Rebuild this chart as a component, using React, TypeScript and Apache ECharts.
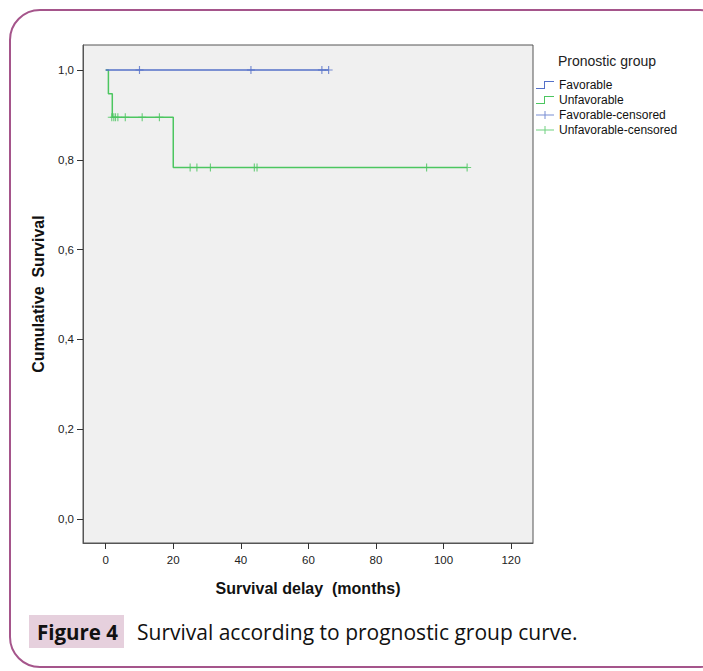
import React, { useEffect, useRef } from "react";
import * as echarts from "echarts";

const favorableCurve: [number, number][] = [
  [0, 1.0],
  [66, 1.0],
];
const unfavorableCurve: [number, number][] = [
  [0, 1.0],
  [0.8, 0.947],
  [1.95, 0.895],
  [20, 0.783],
  [107, 0.783],
];
const favorableCensoredX = [10, 43, 64, 66];
const favorableCensoredY = [1.0, 1.0, 1.0, 1.0];
const unfavorableCensoredX = [1.8, 2.4, 2.9, 3.6, 5.8, 10.8, 15.9, 25, 27, 31, 44, 44.8, 95, 107];
const unfavorableCensoredY = [
  0.895, 0.895, 0.895, 0.895, 0.895, 0.895, 0.895, 0.783, 0.783, 0.783, 0.783, 0.783, 0.783, 0.783,
];
const xTicks = [0, 20, 40, 60, 80, 100, 120];
const yTicks = [0, 0.2, 0.4, 0.6, 0.8, 1.0];
const legendNames = ["Favorable", "Unfavorable", "Favorable-censored", "Unfavorable-censored"];

const BLUE = "#5570c8";
const GREEN = "#4cc660";

const PLUS = "path://M0,3.5h7v1h-7zM3,0h1v8h-1z";
const STEP_ICON = "path://M0,7h8v-7h10v1h-9v7h-9z";
const PLUS_ICON = "path://M0,3.5h18v1h-18zM8.5,0h1v8h-1z";

export default function App() {
  const ref = useRef<HTMLDivElement>(null);
  useEffect(() => {
    if (!ref.current) return;
    const chart = echarts.init(ref.current, undefined, { renderer: "svg" });
    const zip = (xs: number[], ys: number[]) => xs.map((x, i) => [x, ys[i]]);
    chart.setOption({
      animation: false,
      backgroundColor: "#ffffff",
      title: {
        text: "Pronostic group",
        left: 558,
        top: 54,
        padding: 0,
        textStyle: { fontFamily: "Liberation Sans", fontSize: 14, fontWeight: "normal", color: "#222" },
      },
      legend: {
        orient: "vertical",
        left: 536,
        top: 79,
        padding: 0,
        itemWidth: 18,
        itemHeight: 8,
        itemGap: 3,
        selectedMode: false,
        textStyle: { fontFamily: "Liberation Sans", fontSize: 12, color: "#111", lineHeight: 12 },
        data: [
          { name: legendNames[0], icon: STEP_ICON, itemStyle: { color: BLUE } },
          { name: legendNames[1], icon: STEP_ICON, itemStyle: { color: GREEN } },
          { name: legendNames[2], icon: PLUS_ICON, itemStyle: { color: BLUE } },
          { name: legendNames[3], icon: PLUS_ICON, itemStyle: { color: GREEN } },
        ],
      },
      grid: {
        left: 83,
        top: 45,
        width: 450,
        height: 498,
        show: true,
        backgroundColor: "#f0f0f0",
        borderColor: "#555",
        borderWidth: 1,
      },
      xAxis: {
        type: "value",
        min: -6.72,
        max: 126.5,
        name: "Survival delay  (months)",
        nameLocation: "middle",
        nameGap: 37,
        nameTextStyle: { fontFamily: "Liberation Sans", fontSize: 16, fontWeight: "bold", color: "#111" },
        axisLine: { show: true, onZero: false, lineStyle: { color: "#555", width: 1 } },
        axisTick: { show: true, length: 6, customValues: xTicks, lineStyle: { color: "#333" } },
        axisLabel: {
          customValues: xTicks,
          margin: 11,
          fontFamily: "Liberation Sans",
          fontSize: 11.5,
          color: "#222",
        },
        splitLine: { show: false },
      },
      yAxis: {
        type: "value",
        min: -0.0535,
        max: 1.0557,
        name: "Cumulative  Survival",
        nameLocation: "middle",
        nameRotate: 90,
        nameGap: 37,
        nameTextStyle: { fontFamily: "Liberation Sans", fontSize: 16, fontWeight: "bold", color: "#111" },
        axisLine: { show: true, onZero: false, lineStyle: { color: "#555", width: 1 } },
        axisTick: { show: true, length: 6, customValues: yTicks, lineStyle: { color: "#333" } },
        axisLabel: {
          customValues: yTicks,
          margin: 9,
          fontFamily: "Liberation Sans",
          fontSize: 11.5,
          color: "#222",
          formatter: (v: number) => v.toFixed(1).replace(".", ","),
        },
        splitLine: { show: false },
      },
      series: [
        {
          name: legendNames[0],
          type: "line",
          step: "end",
          showSymbol: false,
          data: favorableCurve,
          itemStyle: { color: BLUE },
          lineStyle: { color: BLUE, width: 1.5 },
          z: 3,
        },
        {
          name: legendNames[1],
          type: "line",
          step: "end",
          showSymbol: false,
          data: unfavorableCurve,
          itemStyle: { color: GREEN },
          lineStyle: { color: GREEN, width: 1.5 },
          z: 2,
        },
        {
          name: legendNames[2],
          type: "scatter",
          symbol: PLUS,
          symbolSize: [8, 8],
          data: zip(favorableCensoredX, favorableCensoredY),
          itemStyle: { color: BLUE },
          z: 4,
        },
        {
          name: legendNames[3],
          type: "scatter",
          symbol: PLUS,
          symbolSize: [8, 8],
          data: zip(unfavorableCensoredX, unfavorableCensoredY),
          itemStyle: { color: GREEN },
          z: 4,
        },
      ],
      graphic: [
        {
          type: "rect",
          shape: { x: 10, y: 10, width: 720, height: 657, r: 30 },
          style: { fill: "none", stroke: "#a5558b", lineWidth: 2 },
          silent: true,
        },
        {
          type: "rect",
          shape: { x: 29, y: 615, width: 95, height: 33 },
          style: { fill: "#e6d0dd" },
          silent: true,
        },
        {
          type: "text",
          x: 37,
          y: 632,
          style: {
            text: "Figure 4",
            fontFamily: "Open Sans",
            fontSize: 20.5,
            fontWeight: "bold",
            fill: "#111",
            verticalAlign: "middle",
          },
        },
        {
          type: "text",
          x: 137,
          y: 632,
          style: {
            text: "Survival according to prognostic group curve.",
            fontFamily: "Open Sans",
            fontSize: 21,
            fill: "#111",
            verticalAlign: "middle",
          },
        },
      ],
    });
    return () => chart.dispose();
  }, []);
  return (
    <div
      ref={ref}
      style={{ position: "fixed", left: 0, top: 0, width: 703, height: 671, background: "#fff" }}
    />
  );
}
